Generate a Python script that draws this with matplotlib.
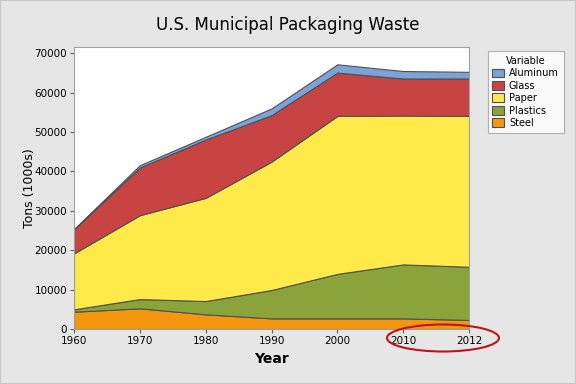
import matplotlib.pyplot as plt
import numpy as np
from matplotlib.patches import Ellipse, Patch

years = ['1960', '1970', '1980', '1990', '2000', '2010', '2012']
steel    = [4400, 5250, 3730, 2700, 2700, 2700, 2300]
plastics = [600, 2350, 3370, 7200, 11300, 13700, 13500]
paper    = [14200, 21300, 26200, 32600, 40100, 37800, 38300]
glass    = [6100, 12100, 14800, 11800, 11000, 9400, 9500]
aluminum = [100, 600, 700, 1700, 2100, 1900, 1700]

names  = ['Steel', 'Plastics', 'Paper', 'Glass', 'Aluminum']
colors = ['#f5960f', '#8aa43b', '#ffea4a', '#c84442', '#7ba3d8']

bg = '#e6e6e6'
fig = plt.figure(figsize=(5.76, 3.84), dpi=100, facecolor=bg)
ax = fig.add_axes([0.1285, 0.1432, 0.6858, 0.7344])

x = np.arange(len(years))
ax.stackplot(x, steel, plastics, paper, glass, aluminum, colors=colors,
             edgecolor='#505050', linewidth=0.8)

ax.set_xlim(0, len(years) - 1)
ax.set_ylim(0, 71600)
ax.set_xticks(x)
ax.set_xticklabels(years)
ax.set_yticks(np.arange(0, 70001, 10000))
ax.tick_params(labelsize=7.5, length=3, color='#606060', pad=2)
for s in ax.spines.values():
    s.set_color('#a0a0a0')

ax.set_xlabel('Year', fontsize=10, fontweight='bold', labelpad=4)
ax.set_ylabel('Tons (1000s)', fontsize=9)
ax.yaxis.set_label_coords(-0.095, 0.5)
fig.text(0.5, 0.935, 'U.S. Municipal Packaging Waste', ha='center', va='center', fontsize=12)

# legend, listed top to bottom as in the stack
handles = [Patch(facecolor=c, edgecolor='#505050', linewidth=0.8)
           for c in colors[::-1]]
leg = fig.legend(handles, names[::-1], title='Variable', loc='upper left',
                 bbox_to_anchor=(0.838, 0.88), fontsize=7, title_fontsize=7,
                 frameon=True, fancybox=False, handlelength=1.2, handleheight=1.0,
                 handletextpad=0.5, labelspacing=0.25, borderpad=0.5)
leg.get_frame().set_edgecolor('#a0a0a0')
leg.get_frame().set_linewidth(0.8)

# red ellipse drawn round the last two ticks
fig.patches.append(Ellipse((443 / 576, 1 - 338 / 384), 112 / 576, 27 / 384,
                           transform=fig.transFigure, fill=False,
                           edgecolor='#c0141c', linewidth=1.5))

fig.patches.append(plt.Rectangle((0, 0), 1, 1, transform=fig.transFigure, fill=False,
                                 edgecolor='#c8c8c8', linewidth=1.5))

plt.savefig('out.png', dpi=100, facecolor=bg)
